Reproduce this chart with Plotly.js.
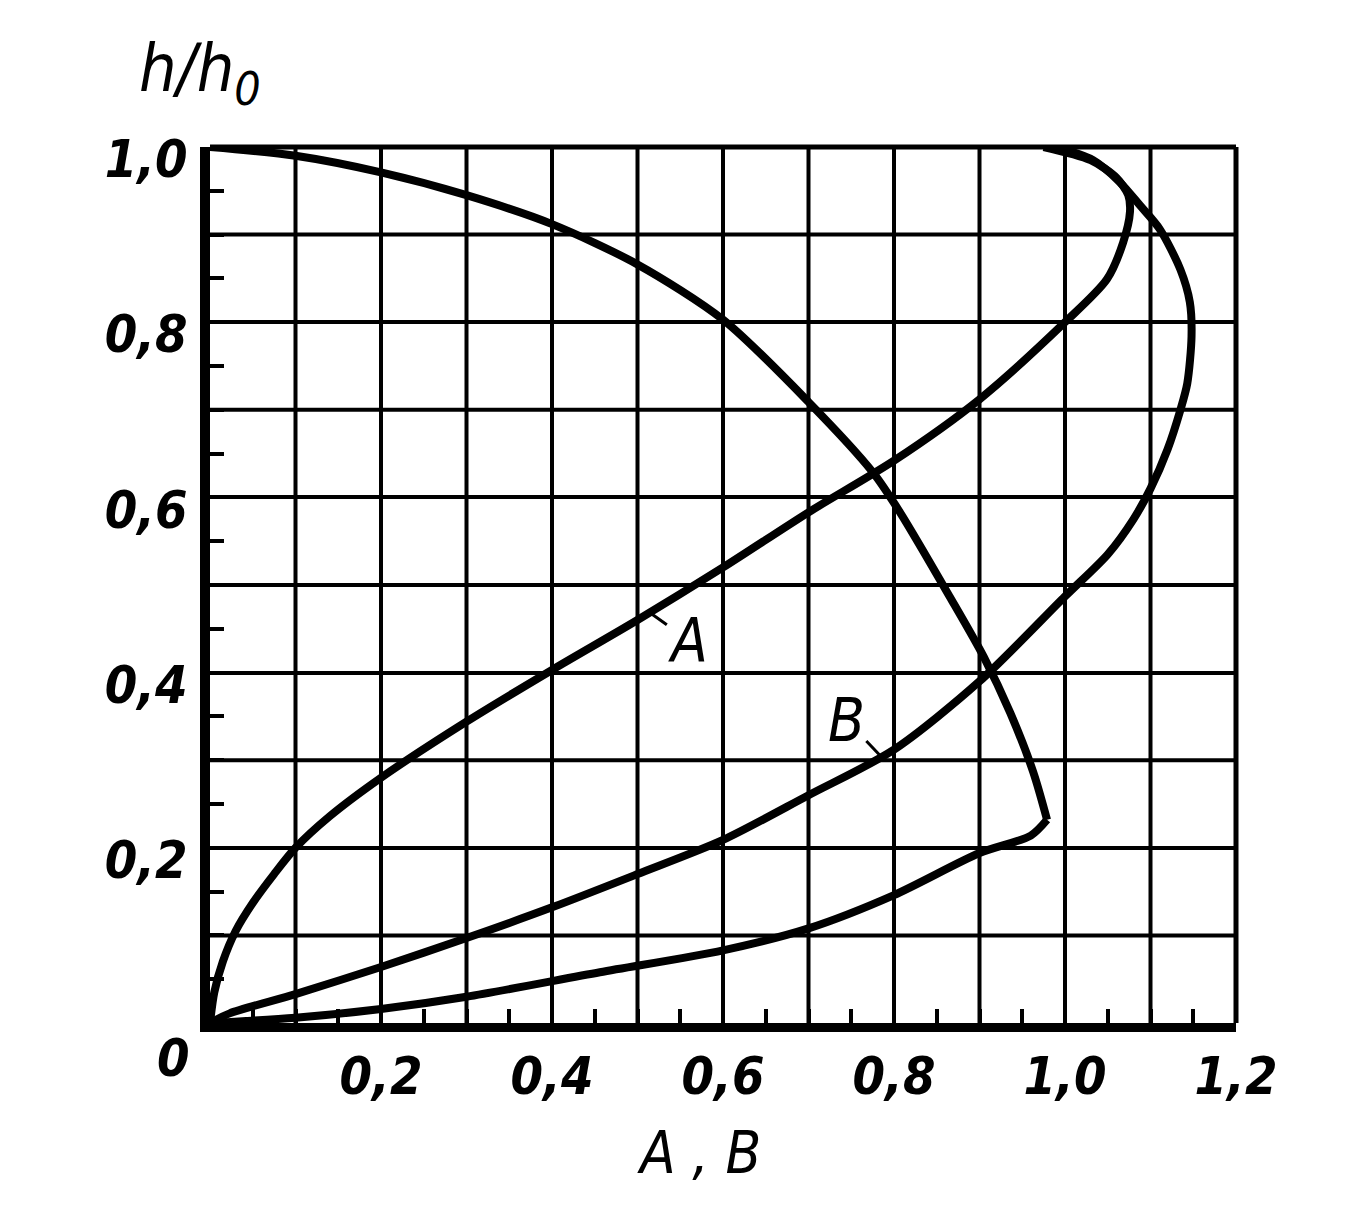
<!DOCTYPE html>
<html>
<head>
<meta charset="utf-8">
<script src="https://cdn.plot.ly/plotly-3.0.1.min.js"></script>
<style>html,body{margin:0;padding:0;background:#fff;}#chart{width:1356px;height:1210px;}</style>
</head>
<body>
<div id="chart"></div>
<script>
// Curve A
const aX = [0, 0.005, 0.015, 0.03, 0.05, 0.075, 0.1, 0.14, 0.2, 0.3, 0.4, 0.5, 0.6, 0.7, 0.8, 0.9, 1.0, 1.049, 1.068, 1.076, 1.074, 1.06, 1.03, 0.975];
const aY = [0, 0.035, 0.07, 0.105, 0.137, 0.17, 0.2, 0.236, 0.28, 0.344, 0.403, 0.46, 0.52, 0.583, 0.642, 0.712, 0.80, 0.849, 0.891, 0.926, 0.945, 0.965, 0.985, 1.0];
// Curve B
const bX = [0, 0.023, 0.1, 0.2, 0.3, 0.4, 0.5, 0.6, 0.7, 0.8, 0.9, 1.0, 1.05, 1.08, 1.1, 1.12, 1.135, 1.143, 1.148, 1.146, 1.135, 1.111, 1.088, 1.064, 1.033, 0.99];
const bY = [0, 0.011, 0.033, 0.064, 0.097, 0.132, 0.17, 0.209, 0.26, 0.312, 0.39, 0.487, 0.535, 0.575, 0.61, 0.655, 0.70, 0.73, 0.784, 0.823, 0.86, 0.906, 0.933, 0.96, 0.985, 1.0];
// Unlabelled curve, upper branch (from top-left down to the corner)
const cUpperX = [0, 0.1, 0.2, 0.3, 0.4, 0.5, 0.6, 0.7, 0.775, 0.807, 0.865, 0.905, 0.936, 0.963, 0.979];
const cUpperY = [1.0, 0.99, 0.971, 0.945, 0.912, 0.866, 0.803, 0.709, 0.629, 0.583, 0.487, 0.418, 0.354, 0.286, 0.232];
// Unlabelled curve, lower branch (from the corner back to the origin)
const cLowerX = [0.979, 0.96, 0.9, 0.8, 0.7, 0.6, 0.456, 0.3, 0.2, 0.1, 0];
const cLowerY = [0.232, 0.214, 0.194, 0.146, 0.108, 0.083, 0.058, 0.03, 0.016, 0.006, 0];

const xTickVals = [0.2, 0.4, 0.6, 0.8, 1.0, 1.2];
const xTickText = ['0,2', '0,4', '0,6', '0,8', '1,0', '1,2'];
const yTickVals = [0.2, 0.4, 0.6, 0.8, 1.0];
const yTickText = ['0,2', '0,4', '0,6', '0,8', '1,0'];
// grid lines between the labelled ones
const xGridOdd = [0.1, 0.3, 0.5, 0.7, 0.9, 1.1];
const yGridOdd = [0.1, 0.3, 0.5, 0.7, 0.9];

const FONT = 'Liberation Sans Narrow, DejaVu Sans Condensed, sans-serif';
const lineStyle = {color: '#000', width: 8, shape: 'spline', smoothing: 0.8};

const traces = [
  {x: aX, y: aY, mode: 'lines', line: lineStyle, cliponaxis: false, name: 'A'},
  {x: bX, y: bY, mode: 'lines', line: lineStyle, cliponaxis: false, name: 'B'},
  {x: cUpperX, y: cUpperY, mode: 'lines', line: lineStyle, cliponaxis: false, name: 'C1'},
  {x: cLowerX, y: cLowerY, mode: 'lines', line: lineStyle, cliponaxis: false, name: 'C2'}
];

const tickFont = {family: FONT, size: 52, color: '#000', style: 'italic', weight: 'bold'};
const gridLine = {color: '#000', width: 4};

const shapes = [];
xGridOdd.forEach(v => shapes.push({type: 'line', layer: 'below', xref: 'x', yref: 'paper', x0: v, x1: v, y0: 0, y1: 1, line: gridLine}));
yGridOdd.forEach(v => shapes.push({type: 'line', layer: 'below', xref: 'paper', yref: 'y', x0: 0, x1: 1, y0: v, y1: v, line: gridLine}));
shapes.push({type: 'line', xref: 'paper', yref: 'paper', x0: 0, y0: 1, x1: 1, y1: 1, line: {color: '#000', width: 5}});
shapes.push({type: 'line', xref: 'paper', yref: 'paper', x0: 1, y0: 0, x1: 1, y1: 1, line: {color: '#000', width: 5}});

const layout = {
  width: 1356, height: 1210,
  margin: {l: 210, r: 120, t: 147, b: 187, pad: 0},
  paper_bgcolor: '#fff', plot_bgcolor: '#fff',
  showlegend: false,
  xaxis: {
    range: [0, 1.2], tickmode: 'array', tickvals: xTickVals, ticktext: xTickText,
    showgrid: true, gridcolor: '#000', gridwidth: 4,
    showline: true, linecolor: '#000', linewidth: 9, zeroline: false,
    ticks: '', tickfont: tickFont, ticklabelstandoff: 0,
    minor: {tickmode: 'linear', tick0: 0, dtick: 0.05, ticks: 'inside', ticklen: 14, tickwidth: 4, tickcolor: '#000', showgrid: false},
    fixedrange: true
  },
  yaxis: {
    range: [0, 1.0], tickmode: 'array', tickvals: yTickVals, ticktext: yTickText,
    showgrid: true, gridcolor: '#000', gridwidth: 4,
    showline: true, linecolor: '#000', linewidth: 10, zeroline: false,
    ticks: '', tickfont: tickFont, ticklabelstandoff: 2, ticklabelshift: 12,
    minor: {tickmode: 'linear', tick0: 0, dtick: 0.05, ticks: 'inside', ticklen: 14, tickwidth: 4, tickcolor: '#000', showgrid: false},
    fixedrange: true
  },
  shapes: shapes,
  annotations: [
    {xref: 'paper', yref: 'paper', x: -0.036, y: -0.04, xanchor: 'center', yanchor: 'middle', showarrow: false,
     text: '0', font: tickFont},
    {xref: 'paper', yref: 'paper', x: -0.01, y: 1.085, xanchor: 'center', yanchor: 'middle', showarrow: false,
     text: 'h/h<sub>0</sub>', font: {family: FONT, size: 66, color: '#000', style: 'italic'}},
    {xref: 'paper', yref: 'paper', x: 0.477, y: -0.148, xanchor: 'center', yanchor: 'middle', showarrow: false,
     text: 'A , B', font: {family: FONT, size: 58, color: '#000', style: 'italic'}},
    {x: 0.515, y: 0.468, xref: 'x', yref: 'y', text: 'A', showarrow: true, arrowhead: 0, arrowwidth: 3, arrowcolor: '#000',
     ax: 38, ay: 27, standoff: 0, startstandoff: 0, font: {family: FONT, size: 60, color: '#000', style: 'italic'}},
    {x: 0.784, y: 0.305, xref: 'x', yref: 'y', text: 'B', showarrow: true, arrowhead: 0, arrowwidth: 3, arrowcolor: '#000',
     ax: -34, ay: -36, standoff: 0, startstandoff: 0, font: {family: FONT, size: 60, color: '#000', style: 'italic'}}
  ]
};

Plotly.newPlot('chart', traces, layout, {displayModeBar: false, staticPlot: true});
</script>
</body>
</html>
